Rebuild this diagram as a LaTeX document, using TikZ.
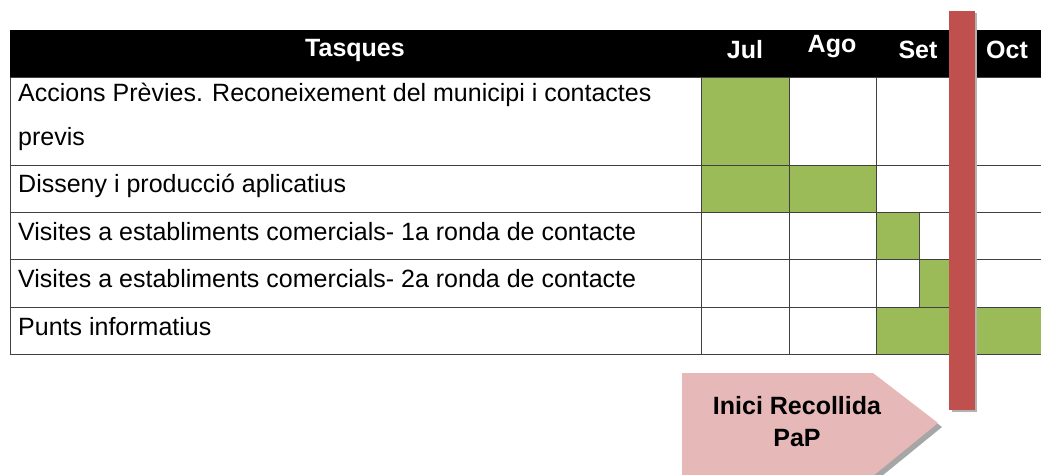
\documentclass[tikz,border=0pt]{standalone}
\usepackage{fontspec}
\setmainfont{Liberation Sans}
\definecolor{verdgantt}{HTML}{9BBB59}
\definecolor{vermell}{HTML}{C0504D}
\definecolor{rosa}{HTML}{E6B9B8}
\newcommand{\Verd}[4]{\filldraw[fill=verdgantt,draw=black!70,line width=1pt] (#1,#2) rectangle (#3,#4);}

\begin{document}
\begin{tikzpicture}[x=1pt,y=-1pt,
    tasca/.style={anchor=west,inner sep=0pt,align=left,font=\fontsize{25}{44}\selectfont},
    capcal/.style={text=white,inner sep=0pt,font=\fontsize{25}{30}\selectfont\bfseries},
    graella/.style={black!75,line width=1pt}]
    \useasboundingbox (0,0) rectangle (1041,474);
    \clip (0,0) rectangle (1041,474);

    % capcalera
    \fill (10,30) rectangle (1041,77);
    \node[capcal] (tasques) at (355,50) {Tasques};
    \node[capcal] (jul) at (745,50) {Jul};
    \node[capcal] (ago) at (832,47) {Ago};
    \node[capcal] (set) at (918,50) {Set};
    \node[capcal] (oct) at (1007,50) {Oct};

    % barres
    \Verd{701}{77}{789}{165}
    \Verd{701}{165}{789}{212}
    \Verd{789}{165}{876}{212}
    \Verd{876}{212}{919}{259}
    \Verd{919}{259}{963}{307}
    \Verd{876}{307}{1045}{354}

    % graella
    \foreach \y in {77,165,212,259,307,354}
      \draw[graella] (10,\y) -- (1041,\y);
    \foreach \x in {10,701,789,876,963}
      \draw[graella] (\x,77) -- (\x,354);

    \node[tasca] (t1) at (18,117) {Accions Prèvies. Reconeixement del municipi i contactes\\previs};
    \node[tasca] (t2) at (18,186) {Disseny i producció aplicatius};
    \node[tasca] (t3) at (18,232) {Visites a establiments comercials- 1a ronda de contacte};
    \node[tasca] (t4) at (18,279) {Visites a establiments comercials- 2a ronda de contacte};
    \node[tasca] (t5) at (18,327) {Punts informatius};

    % inici recollida
    \fill[black!30] (952,13) rectangle (977,412);
    \fill[vermell] (949,11) rectangle (975,410);
    \fill[black!35] (686,377) -- (877,377) -- (942,427) -- (877,480) -- (686,480) -- cycle;
    \fill[rosa] (682,373) -- (873,373) -- (938,423) -- (873,476) -- (682,476) -- cycle;
    \node[inner sep=0pt,align=center,font=\fontsize{25}{32}\selectfont\bfseries] (inici) at (797,422) {Inici Recollida\\PaP};
  \end{tikzpicture}
\end{document}
